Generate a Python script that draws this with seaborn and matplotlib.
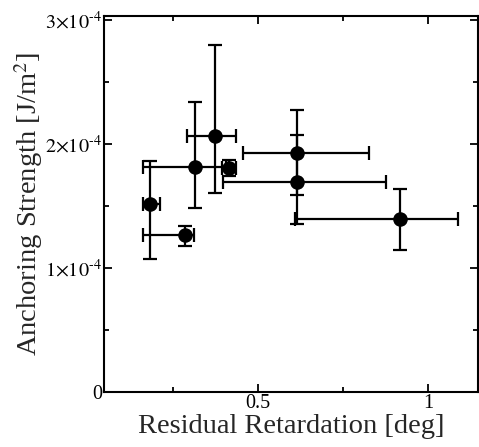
import numpy as np
import pandas as pd
import matplotlib
matplotlib.use("Agg")
import matplotlib.pyplot as plt
import seaborn as sns
from matplotlib.ticker import MultipleLocator

# Data (x in deg, y in units of 1e-4 J/m^2)
retardation = [0.182, 0.285, 0.315, 0.374, 0.415, 0.616, 0.616, 0.918]
anchoring = [1.514, 1.266, 1.817, 2.067, 1.804, 1.930, 1.694, 1.395]
x_err_low = [0.021, 0.124, 0.153, 0.082, 0.021, 0.161, 0.220, 0.309]
x_err_high = [0.030, 0.027, 0.090, 0.061, 0.021, 0.210, 0.260, 0.169]
y_err_low = [0.445, 0.090, 0.331, 0.460, 0.062, 0.340, 0.340, 0.250]
y_err_high = [0.349, 0.075, 0.516, 0.733, 0.062, 0.339, 0.376, 0.240]
y_tick_vals = [0, 1, 2, 3]
y_tick_labels = ["0", r"$1{\times}10^{\text{-}4}$", r"$2{\times}10^{\text{-}4}$",
                 r"$3{\times}10^{\text{-}4}$"]
x_tick_vals = [0.5, 1.0]
x_tick_labels = ["0.5", "1"]

scale = 1e-4
df = pd.DataFrame({
    "x": retardation,
    "y": np.array(anchoring) * scale,
})

sns.set_style("ticks")
plt.rcParams["font.family"] = ["Liberation Serif", "DejaVu Serif"]
plt.rcParams["mathtext.fontset"] = "stix"

fig = plt.figure(figsize=(4.79, 4.47), dpi=100)
ax = fig.add_axes([104 / 479, 55 / 447, 374 / 479, 376 / 447])

ax.errorbar(df["x"], df["y"],
            xerr=[x_err_low, x_err_high],
            yerr=[np.array(y_err_low) * scale, np.array(y_err_high) * scale],
            fmt="none", ecolor="black", elinewidth=1.6, capsize=5, capthick=1.6,
            zorder=2)
sns.scatterplot(data=df, x="x", y="y", ax=ax, color="black", s=110,
                edgecolor="black", linewidth=0, zorder=3, legend=False)

ax.set_xlim(0.047, 1.147)
ax.set_ylim(0, 3.03e-4)
ax.set_xticks(x_tick_vals)
ax.set_xticklabels(x_tick_labels)
ax.set_yticks(np.array(y_tick_vals) * scale)
ax.set_yticklabels(y_tick_labels)
ax.xaxis.set_minor_locator(MultipleLocator(0.25))
ax.yaxis.set_minor_locator(MultipleLocator(0.5e-4))

for s in ax.spines.values():
    s.set_visible(True)
    s.set_linewidth(1.5)
    s.set_color("black")

ax.tick_params(which="both", direction="in", top=True, right=True,
               width=1.3, colors="black", labelsize=14.5)
ax.tick_params(which="major", length=6, pad=1.5)
ax.tick_params(which="minor", length=3.5)

ax.set_xlabel("Residual Retardation [deg]", fontsize=20.5, labelpad=0.5)
ax.set_ylabel(r"Anchoring Strength [J/m$^2$]", fontsize=20.5, labelpad=0)

fig.savefig("out.png", dpi=100)
